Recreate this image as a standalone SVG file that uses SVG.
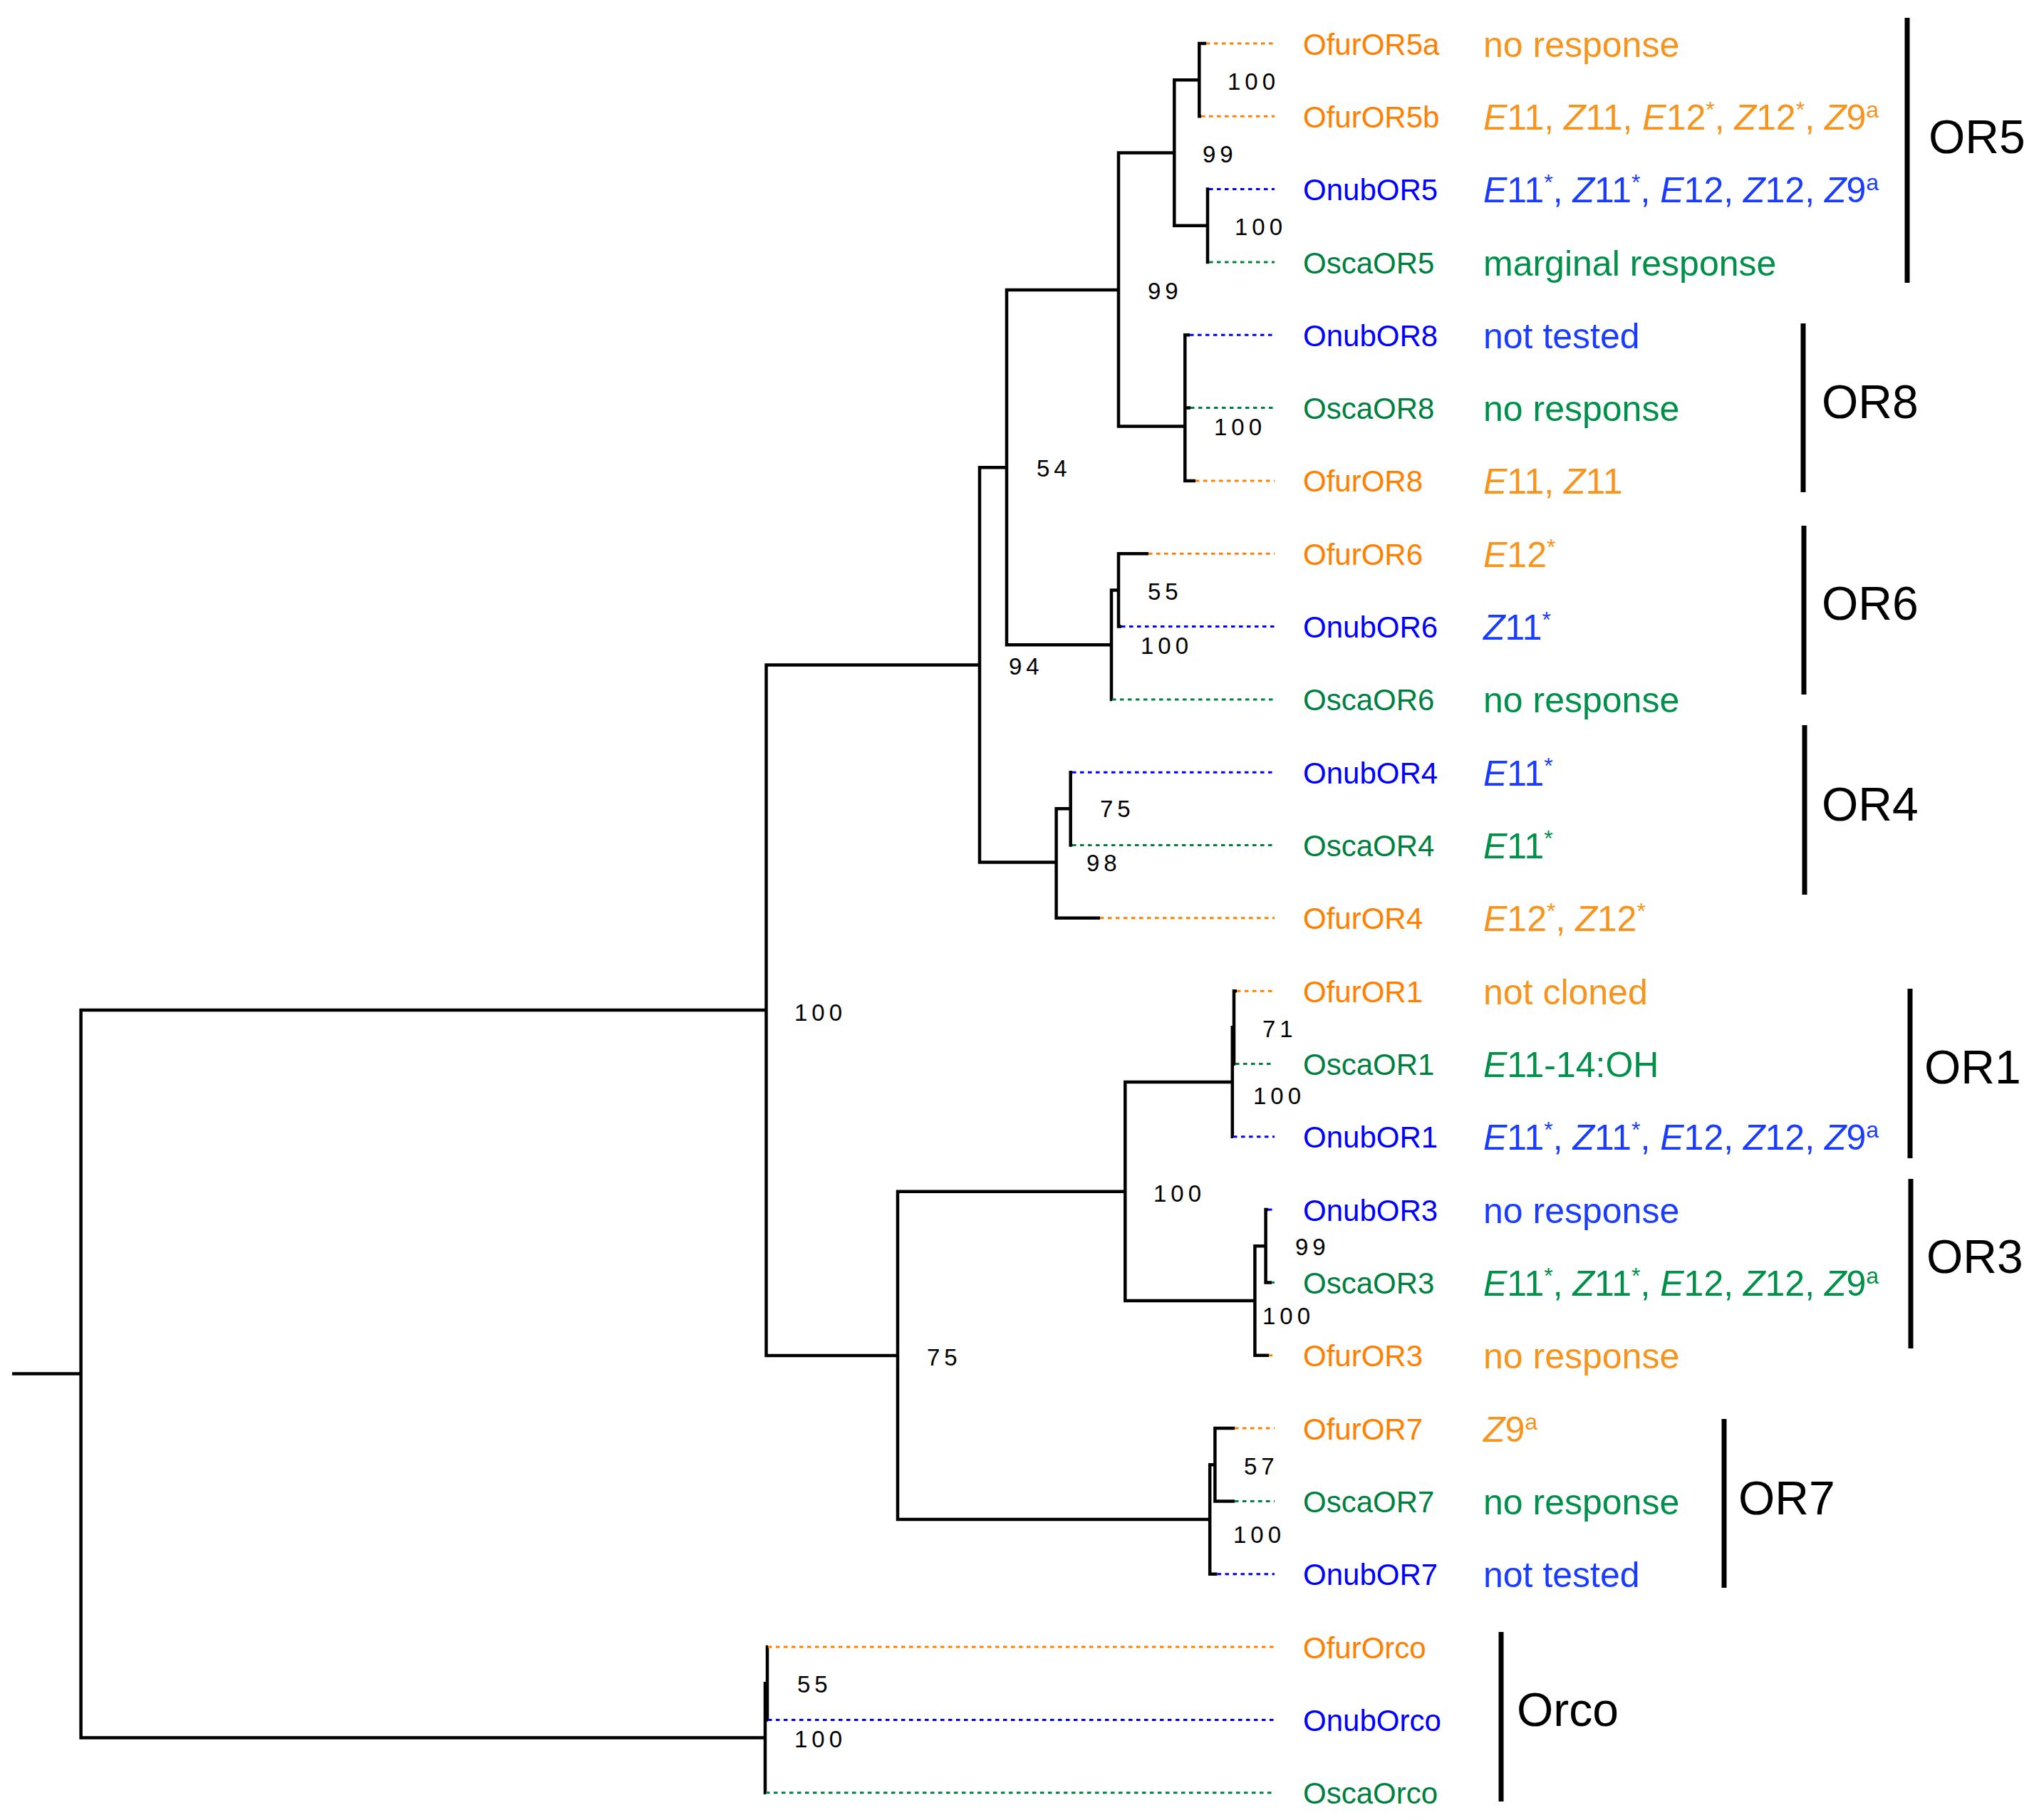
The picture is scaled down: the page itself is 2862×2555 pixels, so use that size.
<svg xmlns="http://www.w3.org/2000/svg" width="2862" height="2555" viewBox="0 0 2862 2555">
<style>
text{font-family:"Liberation Sans",Arial,Helvetica,sans-serif}
.br{fill:none;stroke:#000;stroke-width:4.5;stroke-linejoin:miter}
.dt{fill:none;stroke-width:3;stroke-dasharray:5.5 5.5}
.do{stroke:#FF8000}.db{stroke:#0000FF}.dg{stroke:#008040}
.n{font-size:42px}
.r{font-size:50px}
.bs{font-size:33px;letter-spacing:6px;fill:#000}
.cl{font-size:66px;fill:#000}
.bar{stroke:#000;stroke-width:7}
.no{fill:#FF8000}.nb{fill:#0000FF}.ng{fill:#008040}
.ro{fill:#F7941D}.rb{fill:#1A3CFF}.rg{fill:#00904A}
.i{font-style:italic}
.s{font-size:32px}
</style>
<rect width="2862" height="2555" fill="#fff"/>
<g id="connectors">
<path class="br" d="M17 1928.6H113.6"/>
<path class="br" d="M1075.5 1418H113.6V2439.6H1074"/>
<path class="br" d="M1375 933.5H1075.5V1902.9H1260"/>
<path class="br" d="M1413 656.3H1375V1210.4H1482.6"/>
<path class="br" d="M1570 406.9H1413V905.2H1560"/>
<path class="br" d="M1648.3 214.5H1570V598.5H1663.3"/>
<path class="br" d="M1683.3 112.2H1648.3V316.8H1695"/>
<path class="br" d="M1693 61H1683.3V163.3H1686"/>
<path class="br" d="M1697 265.6H1695V368H1697"/>
<path class="br" d="M1670 470.3H1663.3V674.9H1678M1663.3 572.6H1671"/>
<path class="br" d="M1570 828.4H1560V981.9H1561"/>
<path class="br" d="M1612 777.2H1570V879.6H1574"/>
<path class="br" d="M1502.7 1135.3H1482.6V1288.8H1544"/>
<path class="br" d="M1505 1084.2H1502.7V1186.5H1505"/>
<path class="br" d="M1579.3 1672.8H1260V2133H1698.2"/>
<path class="br" d="M1729.8 1519H1579.3V1826H1761.4"/>
<path class="br" d="M1732 1442.3H1729.8V1595.8H1731"/>
<path class="br" d="M1736 1391.2H1732V1493.5H1734"/>
<path class="br" d="M1776.6 1749.2H1761.4V1902.8H1781"/>
<path class="br" d="M1780 1698.1H1776.6V1800.4H1785"/>
<path class="br" d="M1705.4 2056.2H1698.2V2209.7H1708.5"/>
<path class="br" d="M1733 2005.1H1705.4V2107.4H1733"/>
<path class="br" d="M1077 2363.2H1074V2516.7H1075"/>
<path class="br" d="M1078 2312H1077V2414.4H1078"/>
<path class="dt do" d="M1693 61H1789"/>
<path class="dt do" d="M1686 163.3H1789"/>
<path class="dt db" d="M1697 265.6H1789"/>
<path class="dt dg" d="M1697 368H1789"/>
<path class="dt db" d="M1670 470.3H1789"/>
<path class="dt dg" d="M1671 572.6H1789"/>
<path class="dt do" d="M1678 674.9H1789"/>
<path class="dt do" d="M1612 777.2H1789"/>
<path class="dt db" d="M1574 879.6H1789"/>
<path class="dt dg" d="M1561 981.9H1789"/>
<path class="dt db" d="M1505 1084.2H1789"/>
<path class="dt dg" d="M1505 1186.5H1789"/>
<path class="dt do" d="M1544 1288.8H1789"/>
<path class="dt do" d="M1736 1391.2H1789"/>
<path class="dt dg" d="M1734 1493.5H1789"/>
<path class="dt db" d="M1731 1595.8H1789"/>
<path class="dt db" d="M1780 1698.1H1787"/>
<path class="dt dg" d="M1785 1800.4H1789"/>
<path class="dt do" d="M1781 1902.8H1786"/>
<path class="dt do" d="M1733 2005.1H1789"/>
<path class="dt dg" d="M1733 2107.4H1789"/>
<path class="dt db" d="M1708.5 2209.7H1789"/>
<path class="dt do" d="M1078 2312H1789"/>
<path class="dt db" d="M1078 2414.4H1789"/>
<path class="dt dg" d="M1075 2516.7H1789"/>
</g>
<g id="bootstrap">
<text class="bs" x="1723" y="126">100</text>
<text class="bs" x="1688" y="228">99</text>
<text class="bs" x="1733" y="330">100</text>
<text class="bs" x="1611" y="420">99</text>
<text class="bs" x="1704" y="611">100</text>
<text class="bs" x="1455" y="669">54</text>
<text class="bs" x="1611" y="842">55</text>
<text class="bs" x="1601" y="918">100</text>
<text class="bs" x="1416" y="947">94</text>
<text class="bs" x="1544" y="1147">75</text>
<text class="bs" x="1525" y="1223">98</text>
<text class="bs" x="1115" y="1433">100</text>
<text class="bs" x="1772" y="1456">71</text>
<text class="bs" x="1759" y="1550">100</text>
<text class="bs" x="1619" y="1687">100</text>
<text class="bs" x="1818" y="1762">99</text>
<text class="bs" x="1772" y="1859">100</text>
<text class="bs" x="1301" y="1917">75</text>
<text class="bs" x="1746" y="2070">57</text>
<text class="bs" x="1731" y="2166">100</text>
<text class="bs" x="1119" y="2376">55</text>
<text class="bs" x="1115" y="2453">100</text>
</g>
<g id="leaf-OfurOR5a"><text class="n no" x="1829" y="76.5">OfurOR5a</text><text class="r ro" x="2082" y="79.5">no response</text></g>
<g id="leaf-OfurOR5b"><text class="n no" x="1829" y="178.8">OfurOR5b</text><text class="r ro" x="2082" y="181.8"><tspan class="i">E</tspan>11, <tspan class="i">Z</tspan>11, <tspan class="i">E</tspan>12<tspan class="s" dy="-17">*</tspan><tspan dy="17">, </tspan><tspan class="i">Z</tspan>12<tspan class="s" dy="-17">*</tspan><tspan dy="17">, </tspan><tspan class="i">Z</tspan>9<tspan class="s" dy="-17">a</tspan></text></g>
<g id="leaf-OnubOR5"><text class="n nb" x="1829" y="281.1">OnubOR5</text><text class="r rb" x="2082" y="284.1"><tspan class="i">E</tspan>11<tspan class="s" dy="-17">*</tspan><tspan dy="17">, </tspan><tspan class="i">Z</tspan>11<tspan class="s" dy="-17">*</tspan><tspan dy="17">, </tspan><tspan class="i">E</tspan>12, <tspan class="i">Z</tspan>12, <tspan class="i">Z</tspan>9<tspan class="s" dy="-17">a</tspan></text></g>
<g id="leaf-OscaOR5"><text class="n ng" x="1829" y="383.5">OscaOR5</text><text class="r rg" x="2082" y="386.5">marginal response</text></g>
<g id="leaf-OnubOR8"><text class="n nb" x="1829" y="485.8">OnubOR8</text><text class="r rb" x="2082" y="488.8">not tested</text></g>
<g id="leaf-OscaOR8"><text class="n ng" x="1829" y="588.1">OscaOR8</text><text class="r rg" x="2082" y="591.1">no response</text></g>
<g id="leaf-OfurOR8"><text class="n no" x="1829" y="690.4">OfurOR8</text><text class="r ro" x="2082" y="693.4"><tspan class="i">E</tspan>11, <tspan class="i">Z</tspan>11</text></g>
<g id="leaf-OfurOR6"><text class="n no" x="1829" y="792.7">OfurOR6</text><text class="r ro" x="2082" y="795.7"><tspan class="i">E</tspan>12<tspan class="s" dy="-17">*</tspan></text></g>
<g id="leaf-OnubOR6"><text class="n nb" x="1829" y="895.1">OnubOR6</text><text class="r rb" x="2082" y="898.1"><tspan class="i">Z</tspan>11<tspan class="s" dy="-17">*</tspan></text></g>
<g id="leaf-OscaOR6"><text class="n ng" x="1829" y="997.4">OscaOR6</text><text class="r rg" x="2082" y="1000.4">no response</text></g>
<g id="leaf-OnubOR4"><text class="n nb" x="1829" y="1099.7">OnubOR4</text><text class="r rb" x="2082" y="1102.7"><tspan class="i">E</tspan>11<tspan class="s" dy="-17">*</tspan></text></g>
<g id="leaf-OscaOR4"><text class="n ng" x="1829" y="1202">OscaOR4</text><text class="r rg" x="2082" y="1205"><tspan class="i">E</tspan>11<tspan class="s" dy="-17">*</tspan></text></g>
<g id="leaf-OfurOR4"><text class="n no" x="1829" y="1304.3">OfurOR4</text><text class="r ro" x="2082" y="1307.3"><tspan class="i">E</tspan>12<tspan class="s" dy="-17">*</tspan><tspan dy="17">, </tspan><tspan class="i">Z</tspan>12<tspan class="s" dy="-17">*</tspan></text></g>
<g id="leaf-OfurOR1"><text class="n no" x="1829" y="1406.7">OfurOR1</text><text class="r ro" x="2082" y="1409.7">not cloned</text></g>
<g id="leaf-OscaOR1"><text class="n ng" x="1829" y="1509">OscaOR1</text><text class="r rg" x="2082" y="1512"><tspan class="i">E</tspan>11-14:OH</text></g>
<g id="leaf-OnubOR1"><text class="n nb" x="1829" y="1611.3">OnubOR1</text><text class="r rb" x="2082" y="1614.3"><tspan class="i">E</tspan>11<tspan class="s" dy="-17">*</tspan><tspan dy="17">, </tspan><tspan class="i">Z</tspan>11<tspan class="s" dy="-17">*</tspan><tspan dy="17">, </tspan><tspan class="i">E</tspan>12, <tspan class="i">Z</tspan>12, <tspan class="i">Z</tspan>9<tspan class="s" dy="-17">a</tspan></text></g>
<g id="leaf-OnubOR3"><text class="n nb" x="1829" y="1713.6">OnubOR3</text><text class="r rb" x="2082" y="1716.6">no response</text></g>
<g id="leaf-OscaOR3"><text class="n ng" x="1829" y="1815.9">OscaOR3</text><text class="r rg" x="2082" y="1818.9"><tspan class="i">E</tspan>11<tspan class="s" dy="-17">*</tspan><tspan dy="17">, </tspan><tspan class="i">Z</tspan>11<tspan class="s" dy="-17">*</tspan><tspan dy="17">, </tspan><tspan class="i">E</tspan>12, <tspan class="i">Z</tspan>12, <tspan class="i">Z</tspan>9<tspan class="s" dy="-17">a</tspan></text></g>
<g id="leaf-OfurOR3"><text class="n no" x="1829" y="1918.3">OfurOR3</text><text class="r ro" x="2082" y="1921.3">no response</text></g>
<g id="leaf-OfurOR7"><text class="n no" x="1829" y="2020.6">OfurOR7</text><text class="r ro" x="2082" y="2023.6"><tspan class="i">Z</tspan>9<tspan class="s" dy="-17">a</tspan></text></g>
<g id="leaf-OscaOR7"><text class="n ng" x="1829" y="2122.9">OscaOR7</text><text class="r rg" x="2082" y="2125.9">no response</text></g>
<g id="leaf-OnubOR7"><text class="n nb" x="1829" y="2225.2">OnubOR7</text><text class="r rb" x="2082" y="2228.2">not tested</text></g>
<g id="leaf-OfurOrco"><text class="n no" x="1829" y="2327.5">OfurOrco</text></g>
<g id="leaf-OnubOrco"><text class="n nb" x="1829" y="2429.9">OnubOrco</text></g>
<g id="leaf-OscaOrco"><text class="n ng" x="1829" y="2532.2">OscaOrco</text></g>
<g id="clade-OR5"><line class="bar" x1="2677" y1="25" x2="2677" y2="397"/><text class="cl" x="2707" y="215">OR5</text></g>
<g id="clade-OR8"><line class="bar" x1="2531" y1="454" x2="2531" y2="691"/><text class="cl" x="2557" y="587">OR8</text></g>
<g id="clade-OR6"><line class="bar" x1="2532" y1="738" x2="2532" y2="975"/><text class="cl" x="2557" y="870">OR6</text></g>
<g id="clade-OR4"><line class="bar" x1="2533" y1="1018" x2="2533" y2="1256"/><text class="cl" x="2557" y="1152">OR4</text></g>
<g id="clade-OR1"><line class="bar" x1="2681" y1="1388" x2="2681" y2="1626"/><text class="cl" x="2701" y="1521">OR1</text></g>
<g id="clade-OR3"><line class="bar" x1="2682" y1="1655" x2="2682" y2="1893"/><text class="cl" x="2704" y="1787">OR3</text></g>
<g id="clade-OR7"><line class="bar" x1="2420" y1="1992" x2="2420" y2="2229"/><text class="cl" x="2440" y="2126">OR7</text></g>
<g id="clade-Orco"><line class="bar" x1="2107" y1="2291" x2="2107" y2="2529"/><text class="cl" x="2129" y="2423">Orco</text></g>
</svg>
